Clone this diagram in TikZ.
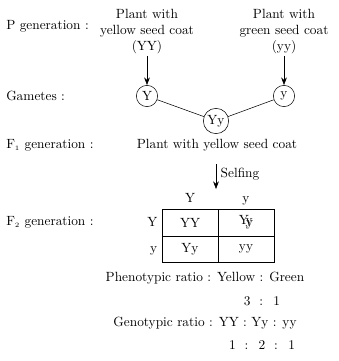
\documentclass[tikz,border=0pt]{standalone}
\usepackage{amsmath}
\usetikzlibrary{arrows.meta,positioning}
\begin{document}
\begin{tikzpicture}[
  x=0.75pt,y=-0.75pt,
  node distance=2pt,
  gen/.style={anchor=west,inner sep=0pt},
  parent/.style={align=center,inner sep=1pt},
  gamete/.style={draw,circle,inner sep=0pt,minimum size=16pt},
  cell/.style={draw,minimum width=42pt,minimum height=20pt,inner sep=0pt,outer sep=0pt},
  hdr/.style={text height=1.6ex,text depth=0.3ex},
  ratio/.style={inner sep=0pt},
  arr/.style={-{Stealth[length=2mm]},draw}
]
\useasboundingbox (0,0) rectangle (339,361);

% generation labels
\node[gen] (lp) at (6,26) {P generation :};
\node[gen] (lg) at (6,96) {Gametes :};
\node[gen] (lf1) at (6,145) {F$_{\scriptscriptstyle 1}$ generation :};
\node[gen] (lf2) at (6,222) {F$_{\scriptscriptstyle 2}$ generation :};

% parents and gametes
\node[parent] (pyy) at (147,32) {Plant with\\yellow seed coat\\(YY)};
\node[parent] (pgg) at (284,32) {Plant with\\green seed coat\\(yy)};
\node[gamete] (gY) at (147,96) {Y};
\node[gamete] (gy) at (284,96) {y};
\node[gamete,minimum size=19pt] (gYy) at (216,121) {Yy};

\draw[arr] (pyy) -- (gY);
\draw[arr] (pgg) -- (gy);
\draw (gY) -- (gYy);
\draw (gYy) -- (gy);

\node[ratio] (f1) at (217,145) {Plant with yellow seed coat};
\coordinate (s1) at (216,164);
\coordinate (s2) at (216,189);
\draw[arr] (s1) -- node[right,pos=0.4] {Selfing} (s2);

% Punnett square
\node[cell] (c11) at (190,222.5) {YY};
\node[cell,right=0pt of c11] (c12) {Y\kern-2.5pt y\kern-5pt\raisebox{-1.8pt}{y}};
\node[cell,below=0pt of c11] (c21) {Yy};
\node[cell,right=0pt of c21] (c22) {yy};
\node[hdr,above=0pt of c11] (hY) {Y};
\node[hdr,above=0pt of c12] (hy) {y};
\node[hdr,left=0pt of c11] (rY) {Y};
\node[hdr,left=0pt of c21] (ry) {y};

% ratios
\node[ratio] (phen) at (205,278) {Phenotypic ratio : Yellow : Green};
\node[ratio] (pnum) at (262,301) {3 \ : \ 1};
\node[ratio] (gen) at (205,323) {Genotypic ratio : YY : Yy : yy};
\node[ratio] (gnum) at (262,345) {1 \ : \ 2 \ : \ 1};
\end{tikzpicture}
\end{document}
